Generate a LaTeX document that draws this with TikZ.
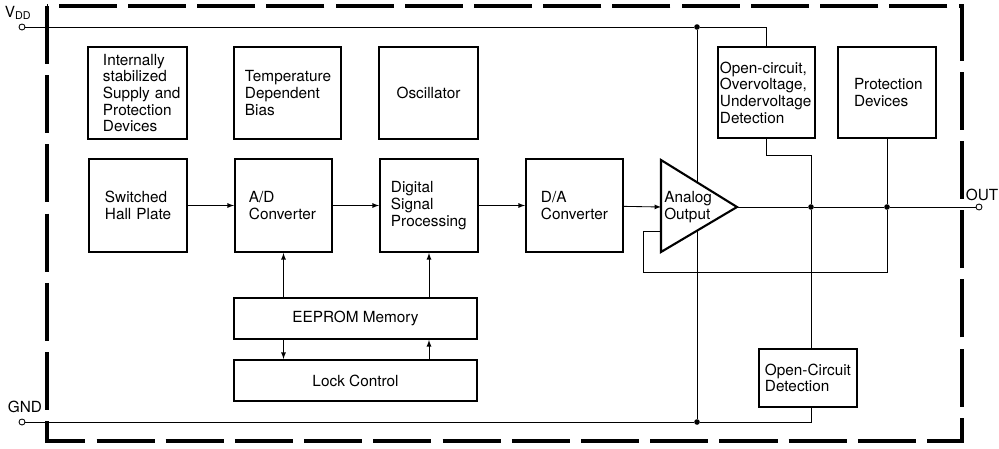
\documentclass[tikz,border=0pt]{standalone}
\usepackage{fontspec}
\setmainfont{TeX Gyre Heros}
\usepackage{tikz}
\usetikzlibrary{arrows}
\usetikzlibrary{calc}
\hyphenpenalty=10000
\exhyphenpenalty=10000

\begin{document}
\begin{tikzpicture}[x=0.025cm,y=-0.025cm,>=latex,
  font=\fontsize{10.9}{11.8}\selectfont,
  blk/.style={draw,line width=1.5pt,fill=white,align=left,inner sep=0pt,minimum width=2.45cm,minimum height=2.3cm},
  wide blk/.style={draw,line width=1.5pt,fill=white,align=center,inner sep=0pt,minimum width=6.075cm,minimum height=1.025cm},
  wire/.style={line width=0.6pt},
  jdot/.style={circle,fill,inner sep=0pt,minimum size=0.14cm},
  term/.style={circle,draw,fill=white,line width=0.6pt,inner sep=0pt,minimum size=0.15cm}]
  \useasboundingbox (0,0) rectangle (999,448);
  \draw[line width=2.6pt,dash pattern=on 1.45cm off 0.28cm] (47,6) rectangle (962,441);

  % top row
  \node[blk,text width=1.725cm,minimum width=2.475cm] (sup) at (137.5,93) {Internally\\stabilized\\\mbox{Supply and}\\Protection\\Devices};
  \node[blk,text width=2.125cm,minimum width=2.675cm] (bias) at (287.5,93) {Temperature\\Dependent\\Bias};
  \node[blk,align=center,minimum width=2.475cm] (osc) at (428.5,93) {Oscillator};
  % signal path
  \node[blk,text width=1.65cm,minimum height=2.325cm] (hall) at (138,205.5) {Switched\\\mbox{Hall Plate}};
  \node[blk,text width=1.725cm,minimum width=2.425cm,minimum height=2.325cm] (adc) at (283.5,205.5) {A/D\\Converter};
  \node[blk,text width=1.9cm,minimum height=2.325cm] (dsp) at (429,205.5) {Digital\\Signal\\Processing};
  \node[blk,text width=1.675cm,minimum width=2.425cm,minimum height=2.325cm] (dac) at (574.5,205.5) {D/A\\Converter};
  \node[wide blk] (eep) at (355.5,318.5) {EEPROM Memory};
  \node[wide blk] (lock) at (355.5,380.5) {Lock Control};
  % output side
  \node[blk,text width=2.325cm,minimum width=2.425cm,minimum height=2.275cm] (ovd) at (766.5,92.5) {Open-circuit,\\Overvoltage,\\Undervoltage\\Detection};
  \node[blk,text width=1.65cm,minimum height=2.275cm] (prot) at (887,92.5) {Protection\\Devices};
  \node[blk,text width=2.15cm,minimum height=1.45cm] (ocd) at (808,378) {Open-Circuit\\Detection};

  % pins and junctions
  \node[term] (vdd) at (22,27) {};
  \node[term] (gnd) at (22,422) {};
  \node[term] (out) at (979,207) {};
  \node (vddlbl) at (18,13) {V\textsubscript{DD}};
  \node (gndlbl) at (25,407) {GND};
  \node (outlbl) at (982,195) {OUT};
  \node[jdot] (jt) at (697,27) {};
  \node[jdot] (jb) at (697,422) {};
  \node[jdot] (jo) at (811,207) {};
  \node[jdot] (jp) at (887,207) {};
  \coordinate (bend) at (811,155);
  \coordinate (fb1) at (887,272);
  \coordinate (fb2) at (643,231);
  \coordinate (ampin) at (661,207);
  \coordinate (ampout) at (737,207);
  \coordinate (ampfb) at (661,231);

  \draw[wire] (vdd) -- (jt) -| (ovd.north);
  \draw[wire] (jt) -- (jb);
  \draw[wire] (gnd) -- (jb) -| (ocd.south -| jo);
  \draw[wire] (ovd.south) |- (bend) -- (jo) -- (jo |- ocd.north);
  \draw[wire] (prot.south) -- (jp) -- (fb1) -| (fb2) -- (ampfb);
  \draw[wire] (ampout) -- (jo) -- (jp) -- (out);

  % analog output stage
  \draw[line width=1.5pt,fill=white] (661,160) -- (ampout) -- (661,252) -- cycle;
  \node[anchor=west,align=left,inner sep=0pt] (amp) at (664,207) {Analog\\Output};

  \draw[wire,->] (hall) -- (adc);
  \draw[wire,->] (adc) -- (dsp);
  \draw[wire,->] (dsp) -- (dac);
  \draw[wire,->] (dac) -- (ampin);
  \draw[wire,->] (eep.north -| adc.south) -- (adc.south);
  \draw[wire,->] (eep.north -| dsp.south) -- (dsp.south);
  \draw[wire,->] (eep.south -| adc.south) -- (lock.north -| adc.south);
  \draw[wire,->] (lock.north -| dsp.south) -- (eep.south -| dsp.south);
\end{tikzpicture}
\end{document}
